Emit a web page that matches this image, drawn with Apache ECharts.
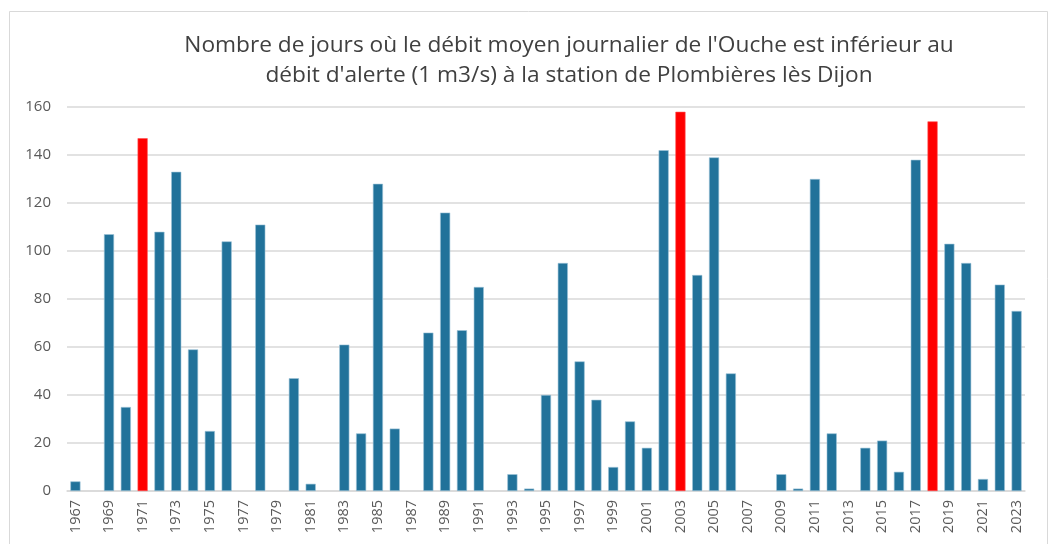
<!DOCTYPE html>
<html>
<head>
<meta charset="utf-8">
<script src="https://cdn.jsdelivr.net/npm/echarts@6/dist/echarts.min.js"></script>
<style>
  html, body { margin: 0; padding: 0; background: #fff; }
  #chart { width: 1049px; height: 544px; }
</style>
</head>
<body>
<div id="chart"></div>
<script>
// years 1967 -> 2023
const years = [];
for (let y = 1967; y <= 2023; y++) years.push(String(y));

// nombre de jours sous le débit d'alerte
const jours = [
  4, 0, 107, 35, 147, 108, 133, 59, 25, 104,
  0, 111, 0, 47, 3, 0, 61, 24, 128, 26,
  0, 66, 116, 67, 85, 0, 7, 1, 40, 95,
  54, 38, 10, 29, 18, 142, 158, 90, 139, 49,
  0, 0, 7, 1, 130, 24, 0, 18, 21, 8,
  138, 154, 103, 95, 5, 86, 75
];

// années mises en évidence en rouge
const redYears = ['1971', '2003', '2018'];

const yTicks = [0, 20, 40, 60, 80, 100, 120, 140, 160];

const chart = echarts.init(document.getElementById('chart'));

const option = {
  animation: false,
  backgroundColor: '#fff',
  graphic: [{
    type: 'rect',
    shape: { x: 9.5, y: 11.5, width: 1038, height: 540 },
    style: { fill: 'none', stroke: '#d9d9d9', lineWidth: 1 },
    silent: true
  }],
  title: {
    text: "Nombre de jours où le débit moyen journalier de l'Ouche est inférieur au\ndébit d'alerte (1 m3/s) à la station de Plombières lès Dijon",
    left: 564,
    textAlign: 'center',
    top: 26,
    textStyle: {
      fontFamily: 'Open Sans',
      fontWeight: 'normal',
      fontSize: 22.7,
      lineHeight: 30,
      color: '#404040'
    }
  },
  grid: {
    left: 67,
    right: 24,
    top: 107,
    bottom: 53
  },
  xAxis: {
    type: 'category',
    data: years,
    axisLine: { lineStyle: { color: '#d9d9d9', width: 1.5 } },
    axisTick: { show: false },
    axisLabel: {
      rotate: 90,
      interval: 1,
      color: '#595959',
      fontSize: 14.5,
      fontFamily: 'Open Sans',
      margin: 9
    }
  },
  yAxis: {
    type: 'value',
    min: yTicks[0],
    max: yTicks[yTicks.length - 1],
    interval: 20,
    axisLine: { show: false },
    axisTick: { show: false },
    splitLine: { lineStyle: { color: '#d9d9d9', width: 1.5 } },
    axisLabel: {
      color: '#595959',
      fontSize: 15,
      fontFamily: 'Open Sans',
      margin: 16
    }
  },
  series: [{
    type: 'bar',
    barCategoryGap: '40%',
    data: jours.map((v, i) => ({
      value: v,
      itemStyle: redYears.includes(years[i])
        ? { color: '#ff0000', borderColor: '#ff5050', borderWidth: 0.6 }
        : { color: '#21729a', borderColor: '#9cc3d6', borderWidth: v ? 0.6 : 0 }
    }))
  }]
};

chart.setOption(option);
</script>
</body>
</html>
